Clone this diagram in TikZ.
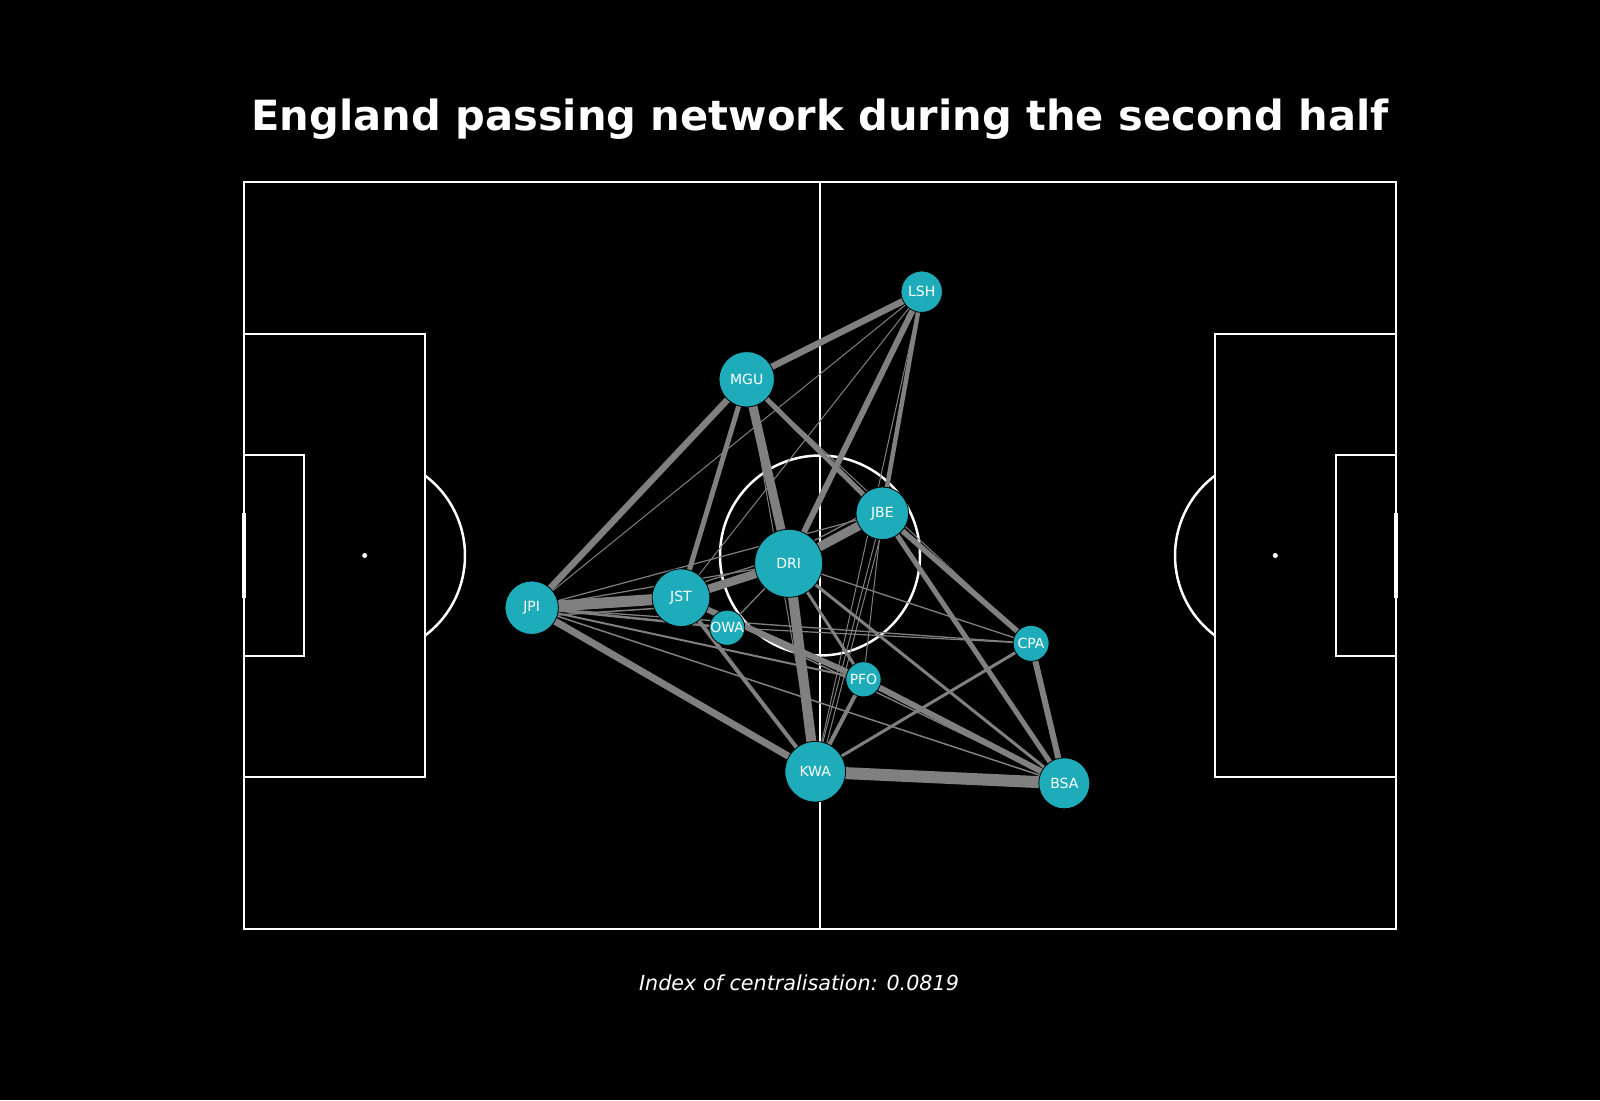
\documentclass[tikz,border=0pt]{standalone}
\usepackage{fontspec}
\setmainfont{DejaVu Sans}
\usetikzlibrary{calc}
\pgfdeclarelayer{pitch}
\pgfdeclarelayer{edges}
\pgfsetlayers{pitch,edges,main}
\definecolor{teal}{RGB}{30,172,186}
\definecolor{edgegray}{RGB}{128,128,128}
\begin{document}
\begin{tikzpicture}[x=1pt,y=-1pt,
  pitchline/.style={draw=white,line width=2.5pt},
  pass/.style={draw=edgegray,line width=#1},
  player/.style={circle,fill=teal,draw=black,line width=0.8pt,inner sep=0pt,
    text=white,font=\fontsize{14}{16}\selectfont,minimum size=#1},
  titletext/.style={text=white,font=\fontsize{41.6}{48}\selectfont\bfseries,anchor=base,inner sep=0pt},
  subtext/.style={text=white,font=\fontsize{20.7}{24}\selectfont\itshape,anchor=base,inner sep=0pt}]
\useasboundingbox (0,0) rectangle (1600,1100);
\begin{pgfonlayer}{pitch}
\fill[black] (0,0) rectangle (1600,1100);
% pitch
\draw[pitchline] (244,182) rectangle (1396,929);
\draw[pitchline] (820,182) -- (820,929);
\draw[pitchline] (820,555.5) circle[radius=100];
\draw[pitchline] (244,334) rectangle (425,777);
\draw[pitchline] (244,455) rectangle (304,656);
\draw[pitchline] (1396,334) rectangle (1215,777);
\draw[pitchline] (1396,455) rectangle (1336,656);
\draw[pitchline] (425,475.6) arc[start angle=-53.13,end angle=53.13,radius=100];
\draw[pitchline] (1215,475.6) arc[start angle=233.13,end angle=126.87,radius=100];
\fill[white] (364.7,555.5) circle[radius=2.5];
\fill[white] (1275.3,555.5) circle[radius=2.5];
\draw[draw=white,line width=4.5pt] (244,513) -- (244,598);
\draw[draw=white,line width=4.5pt] (1396,513) -- (1396,598);
\end{pgfonlayer}
% players
\node[player=41.4pt] (LSH) at (921.7,291.7) {LSH};
\node[player=55.4pt] (MGU) at (746.7,379.3) {MGU};
\node[player=52.6pt] (JBE) at (882.3,513.3) {JBE};
\node[player=68pt] (DRI) at (788.7,563.3) {DRI};
\node[player=57.6pt] (JST) at (681,597.7) {JST};
\node[player=53.4pt] (JPI) at (531.7,607.7) {JPI};
\node[player=20pt] (OWA) at (727.2,627.7) {OWA};
\node[player=36pt] (CPA) at (1031.1,643.3) {CPA};
\node[player=35.2pt] (PFO) at (863.5,679.3) {PFO};
\node[player=60.6pt] (KWA) at (815.2,771.7) {KWA};
\node[player=51pt] (BSA) at (1064.3,783.3) {BSA};
% passes
\begin{pgfonlayer}{edges}
\draw[pass=11pt] (JPI.center) -- (JST.center);
\draw[pass=12pt] (KWA.center) -- (BSA.center);
\draw[pass=10pt] (DRI.center) -- (KWA.center);
\draw[pass=9pt] (MGU.center) -- (DRI.center);
\draw[pass=9pt] (DRI.center) -- (JBE.center);
\draw[pass=8.5pt] (JST.center) -- (DRI.center);
\draw[pass=7pt] (JPI.center) -- (KWA.center);
\draw[pass=6.5pt] (JPI.center) -- (MGU.center);
\draw[pass=6.5pt] (MGU.center) -- (LSH.center);
\draw[pass=6pt] (LSH.center) -- (DRI.center);
\draw[pass=6pt] (PFO.center) -- (BSA.center);
\draw[pass=6pt] (JST.center) -- (PFO.center);
\draw[pass=6pt] (CPA.center) -- (BSA.center);
\draw[pass=5.5pt] (JBE.center) -- (CPA.center);
\draw[pass=5pt] (MGU.center) -- (JBE.center);
\draw[pass=5pt] (JST.center) -- (MGU.center);
\draw[pass=4.5pt] (LSH.center) -- (JBE.center);
\draw[pass=5pt] (JBE.center) -- (BSA.center);
\draw[pass=4pt] (JST.center) -- (KWA.center);
\draw[pass=4pt] (PFO.center) -- (KWA.center);
\draw[pass=3pt] (DRI.center) -- (PFO.center);
\draw[pass=3pt] (DRI.center) -- (BSA.center);
\draw[pass=3pt] (KWA.center) -- (CPA.center);
\draw[pass=2.5pt] (JPI.center) -- (OWA.center);
\draw[pass=2pt] (JPI.center) -- (PFO.center);
\draw[pass=1.5pt] (JPI.center) -- (BSA.center);
\draw[pass=1pt] (JPI.center) -- (LSH.center);
\draw[pass=1pt] (JST.center) -- (LSH.center);
\draw[pass=1.2pt] (JPI.center) -- (DRI.center);
\draw[pass=1.2pt] (JPI.center) -- (JBE.center);
\draw[pass=1.3pt] (JPI.center) -- (CPA.center);
\draw[pass=1.2pt] (OWA.center) -- (CPA.center);
\draw[pass=1.2pt] (OWA.center) -- (DRI.center);
\draw[pass=1.3pt] (DRI.center) -- (CPA.center);
\draw[pass=1pt] (LSH.center) -- (KWA.center);
\draw[pass=1pt] (JBE.center) -- (KWA.center);
\draw[pass=1pt] ($(JBE.center)!4pt!90:(KWA.center)$) -- ($(KWA.center)!4pt!-90:(JBE.center)$);
\draw[pass=1pt] (JBE.center) -- (PFO.center);
\draw[pass=1pt] (MGU.center) -- (KWA.center);
\draw[pass=1pt] (MGU.center) -- (CPA.center);
\draw[pass=1.3pt] (JST.center) -- (BSA.center);
\draw[pass=1.2pt] ($(DRI.center)!8pt!90:(JBE.center)$) -- ($(JBE.center)!8pt!-90:(DRI.center)$);
\draw[pass=1.5pt] ($(JPI.center)!9pt!-90:(JST.center)$) -- ($(JST.center)!9pt!90:(JPI.center)$);
\draw[pass=1.2pt] ($(JST.center)!8pt!90:(DRI.center)$) -- ($(DRI.center)!8pt!-90:(JST.center)$);
\end{pgfonlayer}
% texts
\node[titletext] (title) at (820,130) {England passing network during the second half};
\node[subtext] (sub) at (799,990) {Index of centralisation: 0.0819};
\end{tikzpicture}
\end{document}
